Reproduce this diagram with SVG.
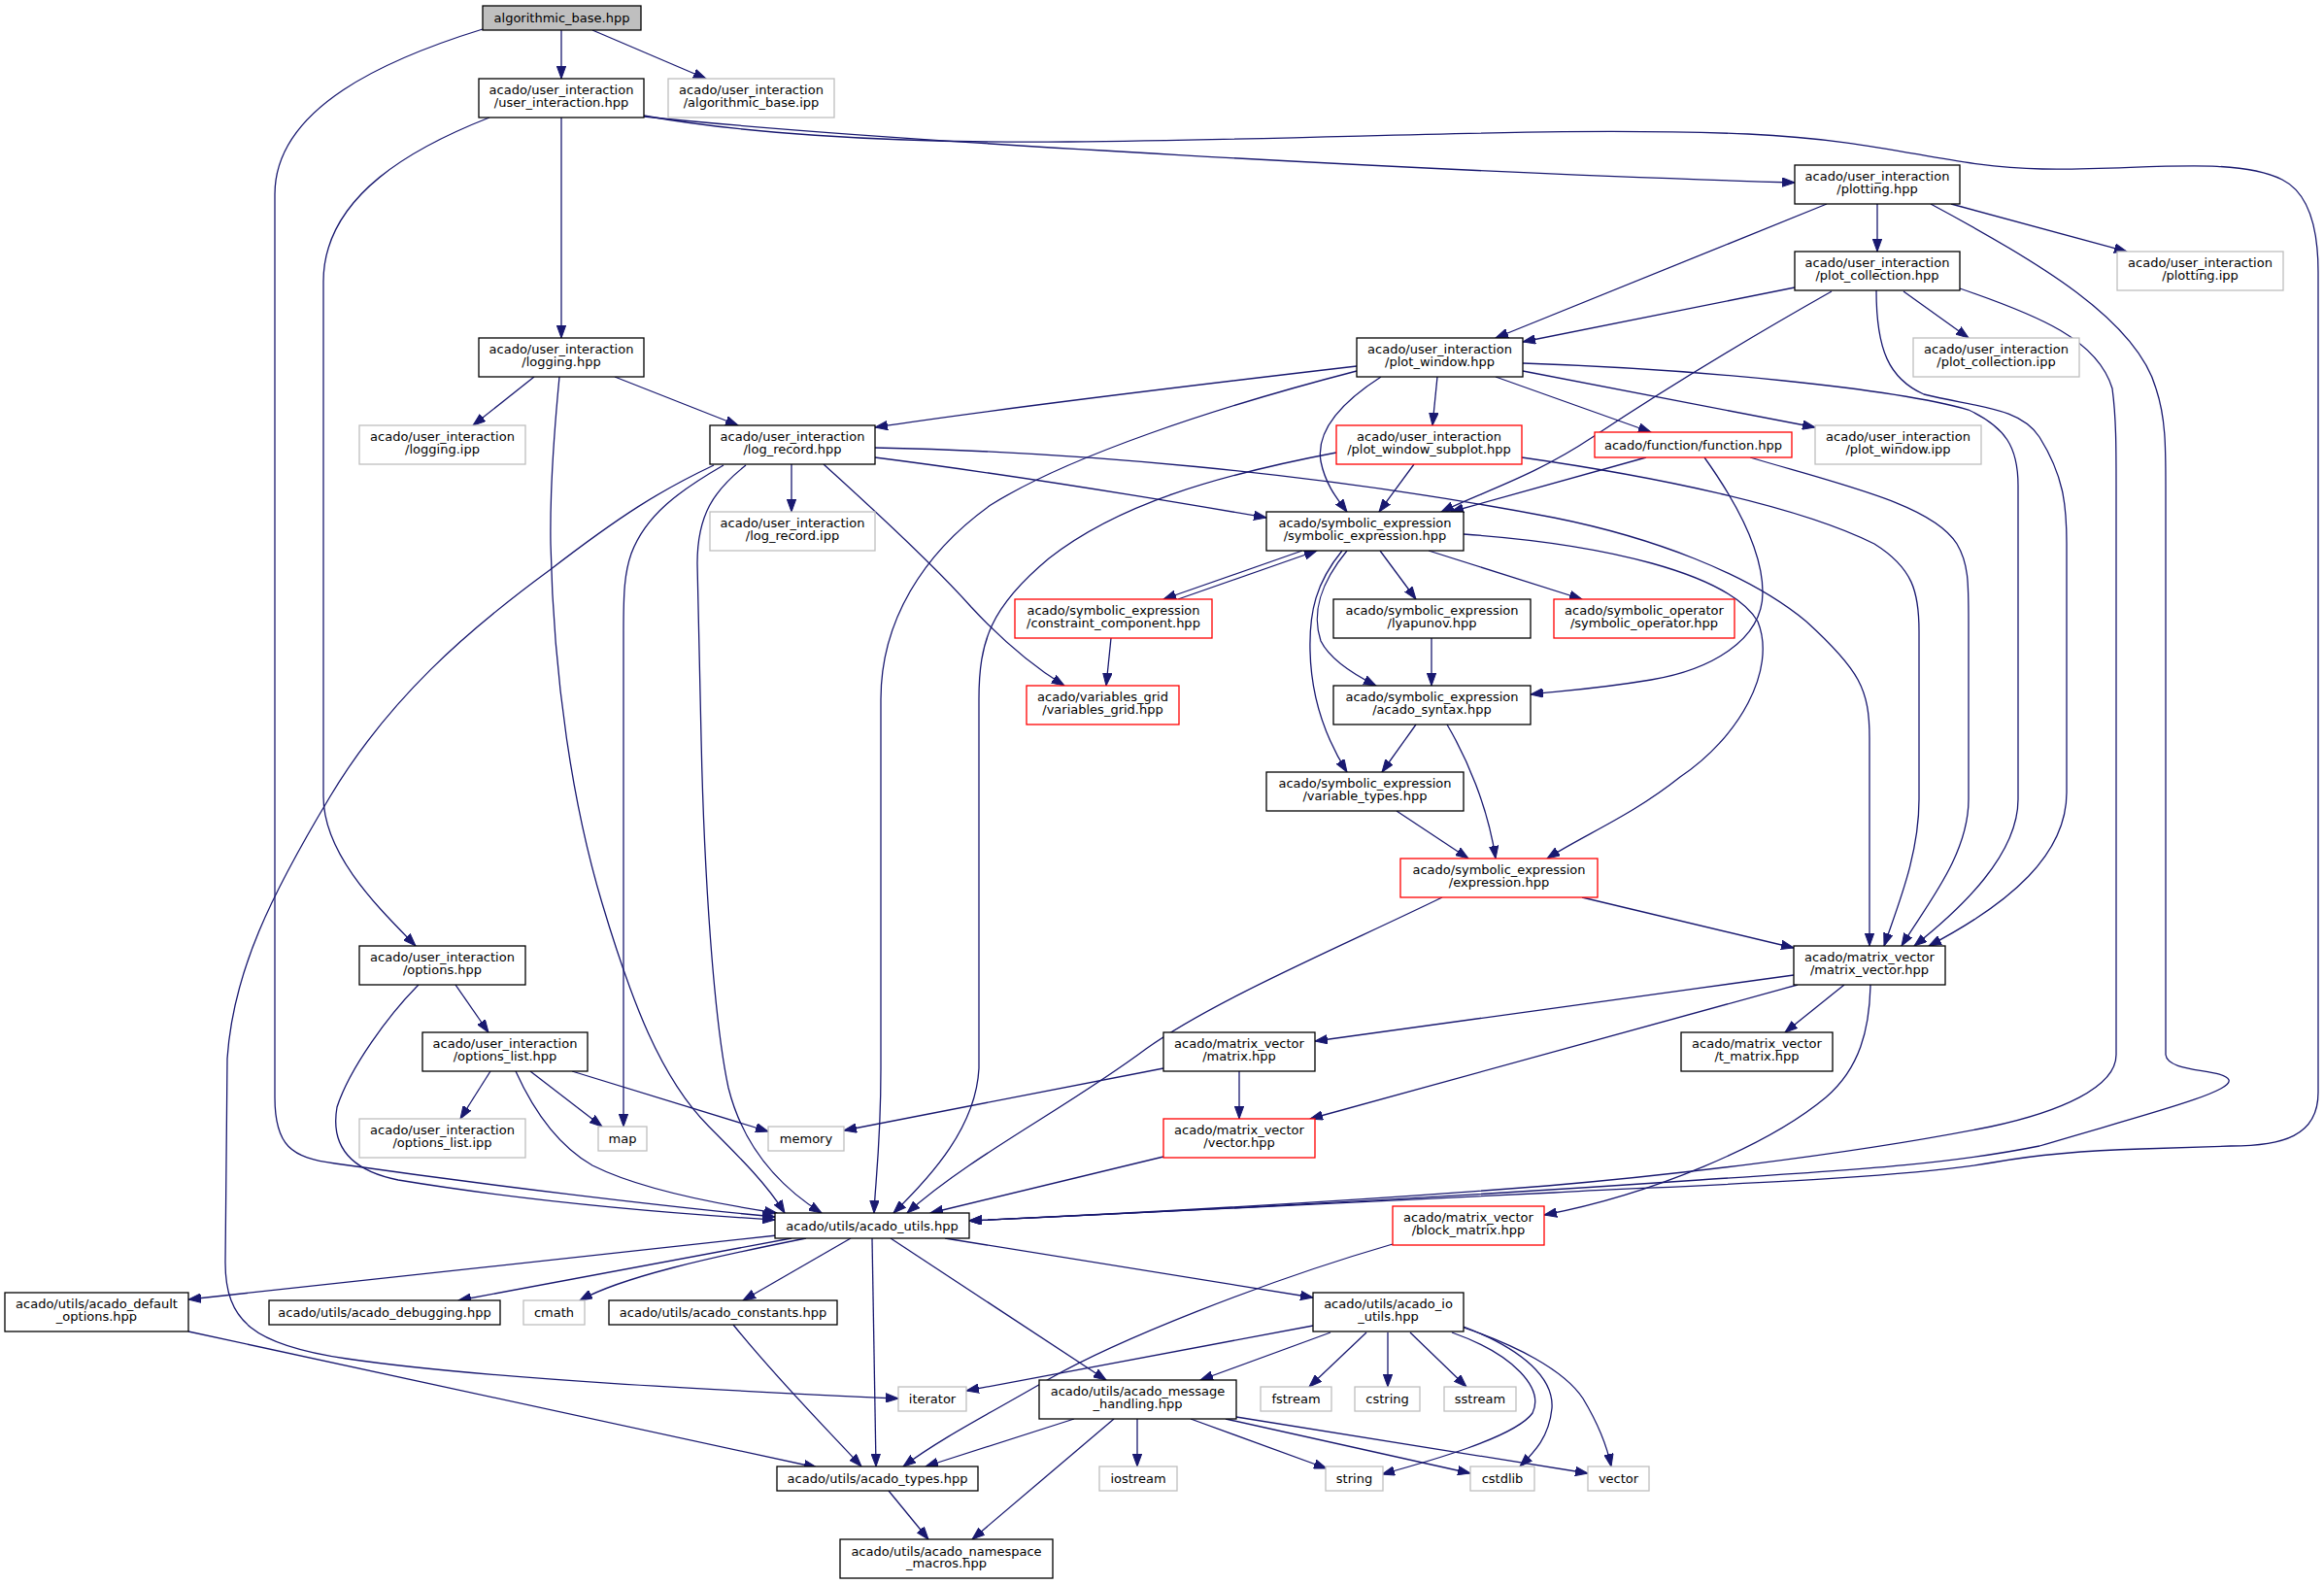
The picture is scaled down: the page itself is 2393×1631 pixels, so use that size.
<svg xmlns="http://www.w3.org/2000/svg" width="2393" height="1631" viewBox="0 0 2393 1631">
<style>
.node rect{fill:#fff;stroke:#000;stroke-width:1.3}
.node.g rect{stroke:#bfbfbf}
.node.r rect{stroke:#ff0000}
.node.root rect{fill:#bfbfbf}
text{font-family:"DejaVu Sans","Liberation Sans",sans-serif;font-size:13px;text-anchor:middle;fill:#000}
#edges path{fill:none;stroke:#191970;stroke-width:1.3;marker-end:url(#a)}
</style>
<defs>
<marker id="a" markerWidth="14" markerHeight="10" refX="13" refY="5" orient="auto" markerUnits="userSpaceOnUse"><path d="M0,0.3 L13,5 L0,9.7 Z" fill="#191970" stroke="#191970" stroke-width="1"/></marker>
</defs>
<rect width="2393" height="1631" fill="#fff"/>
<g id="edges">
<path d="M578,31 L578,81"/>
<path d="M610,31 L727,81"/>
<path d="M497,30 C400,60 283,110 283,200 L283,1130 C283,1180 300,1192 345,1198 C500,1220 680,1242 798,1253"/>
<path d="M578,121 L578,348"/>
<path d="M504,121 C430,150 333,200 333,290 L333,820 C333,880 390,935 428,974"/>
<path d="M663,120 C900,145 1500,178 1848,188"/>
<path d="M663,119 C750,135 900,148 1100,146 C1400,143 1600,130 1800,138 C1950,145 2000,172 2103,174 C2200,176 2300,160 2350,185 C2380,200 2387,240 2387,280 L2387,1125 C2387,1170 2350,1180 2297,1180 L2205,1183 C2130,1185 2080,1192 2052,1197 C1950,1215 1700,1222 1600,1228 C1400,1238 1100,1252 998,1257"/>
<path d="M550,388 L487,438"/>
<path d="M633,388 L760,438"/>
<path d="M576,388 C571,440 566,500 567,560 C570,700 590,830 620,930 C650,1030 680,1110 730,1160 C765,1195 790,1220 808,1249"/>
<path d="M815,478 L815,527"/>
<path d="M901,471 C1050,490 1200,515 1304,533"/>
<path d="M901,461 C1100,465 1350,485 1600,533 C1700,553 1800,590 1860,640 C1915,690 1925,710 1925,760 L1925,974"/>
<path d="M848,478 C900,525 960,580 1000,625 C1040,668 1070,690 1096,706"/>
<path d="M768,479 C735,505 718,530 718,580 L722,760 C725,900 735,1050 750,1120 C765,1180 800,1220 846,1249"/>
<path d="M745,479 C700,505 665,530 650,570 C643,590 642,610 642,650 L642,1160"/>
<path d="M735,479 C680,505 640,530 566,587 C480,650 400,720 340,820 C280,920 240,1000 234,1090 L232,1300 C232,1360 260,1385 357,1399 C500,1420 750,1432 925,1440"/>
<path d="M1933,210 L1933,259"/>
<path d="M2009,210 L2190,259"/>
<path d="M1881,210 L1540,348"/>
<path d="M1988,210 C2100,270 2200,330 2220,400 C2230,430 2230,460 2230,500 L2230,1086 C2232,1105 2290,1100 2295,1112 C2300,1125 2200,1150 2100,1180 C2000,1200 1900,1205 1750,1215 C1500,1232 1200,1248 998,1257"/>
<path d="M1848,296 L1568,352"/>
<path d="M1886,300 C1780,360 1700,410 1640,450 C1580,490 1530,505 1484,527"/>
<path d="M1960,300 L2027,348"/>
<path d="M1932,299 C1932,360 1945,390 1981,406 C2040,420 2080,420 2100,450 C2125,490 2128,520 2128,560 L2128,816 C2128,880 2070,930 1986,974"/>
<path d="M2018,297 C2100,325 2160,350 2175,400 C2179,430 2179,460 2179,500 L2179,1086 C2179,1120 2120,1145 2050,1160 C1900,1190 1700,1212 1593,1221 C1350,1240 1150,1250 998,1257"/>
<path d="M1397,377 C1200,400 1000,425 901,440"/>
<path d="M1397,382 C1250,420 1100,470 1020,520 C950,570 907,640 907,720 L907,1100 C907,1180 901,1220 900,1249"/>
<path d="M1422,388 C1380,415 1355,445 1360,475 C1365,500 1378,515 1387,527"/>
<path d="M1480,388 L1475,438"/>
<path d="M1540,388 L1700,445"/>
<path d="M1568,382 L1869,440"/>
<path d="M1568,374 C1750,380 1950,400 2027,422 C2065,440 2078,460 2078,500 L2078,823 C2078,880 2020,935 1971,974"/>
<path d="M1456,478 L1420,527"/>
<path d="M1376,466 C1250,490 1150,520 1080,575 C1020,625 1008,660 1008,720 L1008,1100 C1005,1160 960,1210 920,1249"/>
<path d="M1567,471 C1700,490 1850,520 1930,560 C1970,585 1976,610 1976,650 L1976,823 C1976,880 1955,930 1940,974"/>
<path d="M1695,471 L1494,527"/>
<path d="M1755,471 C1790,520 1815,570 1815,610 C1815,660 1760,690 1700,700 C1640,710 1600,712 1576,715"/>
<path d="M1802,471 C1900,500 1990,520 2015,560 C2027,580 2027,600 2027,640 L2027,823 C2027,880 1985,930 1958,974"/>
<path d="M1341,567 L1198,617"/>
<path d="M1213,617 L1356,567"/>
<path d="M1421,567 L1458,617"/>
<path d="M1471,567 L1629,617"/>
<path d="M1387,567 C1360,600 1350,630 1360,660 C1370,680 1395,695 1417,706"/>
<path d="M1382,567 C1355,600 1348,630 1349,670 C1350,720 1365,760 1387,795"/>
<path d="M1507,550 C1650,560 1780,590 1810,640 C1830,690 1790,760 1730,800 C1680,840 1630,860 1593,884"/>
<path d="M1474,657 L1474,706"/>
<path d="M1458,746 L1423,795"/>
<path d="M1490,746 C1510,780 1532,830 1540,884"/>
<path d="M1438,835 L1512,884"/>
<path d="M1144,657 L1139,706"/>
<path d="M1629,924 L1847,976"/>
<path d="M1485,924 C1380,975 1250,1030 1180,1080 C1100,1140 1000,1190 934,1249"/>
<path d="M1847,1004 L1354,1072"/>
<path d="M1851,1014 L1349,1152"/>
<path d="M1899,1014 L1838,1063"/>
<path d="M1926,1014 C1925,1060 1915,1100 1880,1130 C1820,1180 1700,1230 1590,1251"/>
<path d="M1276,1103 L1276,1152"/>
<path d="M1198,1100 L869,1164"/>
<path d="M1198,1191 L958,1249"/>
<path d="M469,1014 L503,1063"/>
<path d="M431,1014 C400,1045 360,1100 347,1140 C340,1180 360,1205 410,1215 C550,1238 700,1250 798,1256"/>
<path d="M505,1103 L474,1152"/>
<path d="M546,1103 L620,1160"/>
<path d="M589,1103 L791,1165"/>
<path d="M531,1103 C550,1145 575,1180 610,1200 C660,1225 740,1240 800,1249"/>
<path d="M800,1272 L194,1338"/>
<path d="M815,1275 L472,1339"/>
<path d="M830,1275 C730,1295 640,1315 597,1339"/>
<path d="M876,1275 L765,1339"/>
<path d="M898,1275 L902,1510"/>
<path d="M917,1275 L1139,1421"/>
<path d="M973,1275 L1352,1336"/>
<path d="M194,1371 L841,1511"/>
<path d="M755,1364 C800,1420 850,1470 887,1510"/>
<path d="M1106,1461 L953,1510"/>
<path d="M1147,1461 L1001,1585"/>
<path d="M1171,1461 L1171,1510"/>
<path d="M1226,1461 L1366,1512"/>
<path d="M1262,1461 L1514,1517"/>
<path d="M1273,1459 L1635,1517"/>
<path d="M915,1535 L956,1585"/>
<path d="M1434,1281 C1300,1320 1150,1380 1080,1420 C1020,1455 970,1480 930,1510"/>
<path d="M1352,1365 L995,1432"/>
<path d="M1370,1372 L1236,1421"/>
<path d="M1407,1372 L1348,1428"/>
<path d="M1429,1372 L1429,1428"/>
<path d="M1452,1372 L1510,1428"/>
<path d="M1495,1372 C1560,1395 1590,1430 1578,1455 C1560,1480 1470,1505 1423,1518"/>
<path d="M1507,1366 C1570,1390 1600,1420 1598,1450 C1595,1480 1580,1495 1565,1510"/>
<path d="M1507,1367 C1560,1385 1610,1410 1630,1440 C1648,1470 1655,1490 1659,1510"/>
</g>
<g id="n_ab" class="node root"><rect x="497" y="6" width="163" height="25"/><text x="578.5" y="23">algorithmic_base.hpp</text></g>
<g id="n_ui" class="node"><rect x="493" y="81" width="170" height="40"/><text x="578" y="96.5">acado/user_interaction</text><text x="578" y="110">/user_interaction.hpp</text></g>
<g id="n_abipp" class="node g"><rect x="688" y="81" width="171" height="40"/><text x="773.5" y="96.5">acado/user_interaction</text><text x="773.5" y="110">/algorithmic_base.ipp</text></g>
<g id="n_plotting" class="node"><rect x="1848" y="170" width="170" height="40"/><text x="1933" y="185.5">acado/user_interaction</text><text x="1933" y="199">/plotting.hpp</text></g>
<g id="n_plottingipp" class="node g"><rect x="2180" y="259" width="171" height="40"/><text x="2265.5" y="274.5">acado/user_interaction</text><text x="2265.5" y="288">/plotting.ipp</text></g>
<g id="n_pc" class="node"><rect x="1848" y="259" width="170" height="40"/><text x="1933" y="274.5">acado/user_interaction</text><text x="1933" y="288">/plot_collection.hpp</text></g>
<g id="n_pcipp" class="node g"><rect x="1970" y="348" width="171" height="40"/><text x="2055.5" y="363.5">acado/user_interaction</text><text x="2055.5" y="377">/plot_collection.ipp</text></g>
<g id="n_logging" class="node"><rect x="493" y="348" width="170" height="40"/><text x="578" y="363.5">acado/user_interaction</text><text x="578" y="377">/logging.hpp</text></g>
<g id="n_pw" class="node"><rect x="1397" y="348" width="171" height="40"/><text x="1482.5" y="363.5">acado/user_interaction</text><text x="1482.5" y="377">/plot_window.hpp</text></g>
<g id="n_loggingipp" class="node g"><rect x="370" y="438" width="171" height="40"/><text x="455.5" y="453.5">acado/user_interaction</text><text x="455.5" y="467">/logging.ipp</text></g>
<g id="n_lr" class="node"><rect x="731" y="438" width="170" height="40"/><text x="816" y="453.5">acado/user_interaction</text><text x="816" y="467">/log_record.hpp</text></g>
<g id="n_pws" class="node r"><rect x="1376" y="438" width="191" height="40"/><text x="1471.5" y="453.5">acado/user_interaction</text><text x="1471.5" y="467">/plot_window_subplot.hpp</text></g>
<g id="n_func" class="node r"><rect x="1642" y="445" width="203" height="26"/><text x="1743.5" y="462.5">acado/function/function.hpp</text></g>
<g id="n_pwipp" class="node g"><rect x="1869" y="438" width="171" height="40"/><text x="1954.5" y="453.5">acado/user_interaction</text><text x="1954.5" y="467">/plot_window.ipp</text></g>
<g id="n_lripp" class="node g"><rect x="731" y="527" width="170" height="40"/><text x="816" y="542.5">acado/user_interaction</text><text x="816" y="556">/log_record.ipp</text></g>
<g id="n_se" class="node"><rect x="1304" y="527" width="203" height="40"/><text x="1405.5" y="542.5">acado/symbolic_expression</text><text x="1405.5" y="556">/symbolic_expression.hpp</text></g>
<g id="n_cc" class="node r"><rect x="1045" y="617" width="203" height="40"/><text x="1146.5" y="632.5">acado/symbolic_expression</text><text x="1146.5" y="646">/constraint_component.hpp</text></g>
<g id="n_lya" class="node"><rect x="1373" y="617" width="203" height="40"/><text x="1474.5" y="632.5">acado/symbolic_expression</text><text x="1474.5" y="646">/lyapunov.hpp</text></g>
<g id="n_so" class="node r"><rect x="1600" y="617" width="186" height="40"/><text x="1693" y="632.5">acado/symbolic_operator</text><text x="1693" y="646">/symbolic_operator.hpp</text></g>
<g id="n_vg" class="node r"><rect x="1057" y="706" width="157" height="40"/><text x="1135.5" y="721.5">acado/variables_grid</text><text x="1135.5" y="735">/variables_grid.hpp</text></g>
<g id="n_as" class="node"><rect x="1373" y="706" width="203" height="40"/><text x="1474.5" y="721.5">acado/symbolic_expression</text><text x="1474.5" y="735">/acado_syntax.hpp</text></g>
<g id="n_vt" class="node"><rect x="1304" y="795" width="203" height="40"/><text x="1405.5" y="810.5">acado/symbolic_expression</text><text x="1405.5" y="824">/variable_types.hpp</text></g>
<g id="n_expr" class="node r"><rect x="1442" y="884" width="203" height="40"/><text x="1543.5" y="899.5">acado/symbolic_expression</text><text x="1543.5" y="913">/expression.hpp</text></g>
<g id="n_opt" class="node"><rect x="370" y="974" width="171" height="40"/><text x="455.5" y="989.5">acado/user_interaction</text><text x="455.5" y="1003">/options.hpp</text></g>
<g id="n_mv" class="node"><rect x="1847" y="974" width="156" height="40"/><text x="1925" y="989.5">acado/matrix_vector</text><text x="1925" y="1003">/matrix_vector.hpp</text></g>
<g id="n_ol" class="node"><rect x="435" y="1063" width="170" height="40"/><text x="520" y="1078.5">acado/user_interaction</text><text x="520" y="1092">/options_list.hpp</text></g>
<g id="n_mat" class="node"><rect x="1198" y="1063" width="156" height="40"/><text x="1276" y="1078.5">acado/matrix_vector</text><text x="1276" y="1092">/matrix.hpp</text></g>
<g id="n_tm" class="node"><rect x="1731" y="1063" width="156" height="40"/><text x="1809" y="1078.5">acado/matrix_vector</text><text x="1809" y="1092">/t_matrix.hpp</text></g>
<g id="n_olipp" class="node g"><rect x="370" y="1152" width="171" height="40"/><text x="455.5" y="1167.5">acado/user_interaction</text><text x="455.5" y="1181">/options_list.ipp</text></g>
<g id="n_map" class="node g"><rect x="616" y="1160" width="50" height="25"/><text x="641" y="1177">map</text></g>
<g id="n_mem" class="node g"><rect x="791" y="1160" width="78" height="25"/><text x="830" y="1177">memory</text></g>
<g id="n_vec" class="node r"><rect x="1198" y="1152" width="156" height="40"/><text x="1276" y="1167.5">acado/matrix_vector</text><text x="1276" y="1181">/vector.hpp</text></g>
<g id="n_au" class="node"><rect x="798" y="1249" width="200" height="26"/><text x="898" y="1266.5">acado/utils/acado_utils.hpp</text></g>
<g id="n_bm" class="node r"><rect x="1434" y="1242" width="156" height="40"/><text x="1512" y="1257.5">acado/matrix_vector</text><text x="1512" y="1271">/block_matrix.hpp</text></g>
<g id="n_do" class="node"><rect x="5" y="1331" width="189" height="40"/><text x="99.5" y="1346.5">acado/utils/acado_default</text><text x="99.5" y="1360">_options.hpp</text></g>
<g id="n_dbg" class="node"><rect x="277" y="1339" width="238" height="25"/><text x="396" y="1356">acado/utils/acado_debugging.hpp</text></g>
<g id="n_cmath" class="node g"><rect x="539" y="1339" width="63" height="25"/><text x="570.5" y="1356">cmath</text></g>
<g id="n_const" class="node"><rect x="627" y="1339" width="235" height="25"/><text x="744.5" y="1356">acado/utils/acado_constants.hpp</text></g>
<g id="n_io" class="node"><rect x="1352" y="1331" width="155" height="40"/><text x="1429.5" y="1346.5">acado/utils/acado_io</text><text x="1429.5" y="1360">_utils.hpp</text></g>
<g id="n_iter" class="node g"><rect x="925" y="1428" width="70" height="25"/><text x="960" y="1445">iterator</text></g>
<g id="n_mh" class="node"><rect x="1070" y="1421" width="203" height="40"/><text x="1171.5" y="1436.5">acado/utils/acado_message</text><text x="1171.5" y="1450">_handling.hpp</text></g>
<g id="n_fstream" class="node g"><rect x="1298" y="1428" width="73" height="25"/><text x="1334.5" y="1445">fstream</text></g>
<g id="n_cstring" class="node g"><rect x="1395" y="1428" width="67" height="25"/><text x="1428.5" y="1445">cstring</text></g>
<g id="n_sstream" class="node g"><rect x="1487" y="1428" width="74" height="25"/><text x="1524" y="1445">sstream</text></g>
<g id="n_types" class="node"><rect x="800" y="1510" width="207" height="25"/><text x="903.5" y="1527">acado/utils/acado_types.hpp</text></g>
<g id="n_iostream" class="node g"><rect x="1132" y="1510" width="80" height="25"/><text x="1172" y="1527">iostream</text></g>
<g id="n_string" class="node g"><rect x="1365" y="1510" width="59" height="25"/><text x="1394.5" y="1527">string</text></g>
<g id="n_cstdlib" class="node g"><rect x="1514" y="1510" width="66" height="25"/><text x="1547" y="1527">cstdlib</text></g>
<g id="n_vector" class="node g"><rect x="1635" y="1510" width="63" height="25"/><text x="1666.5" y="1527">vector</text></g>
<g id="n_ns" class="node"><rect x="865" y="1585" width="219" height="40"/><text x="974.5" y="1601.5">acado/utils/acado_namespace</text><text x="974.5" y="1614">_macros.hpp</text></g>
</svg>
